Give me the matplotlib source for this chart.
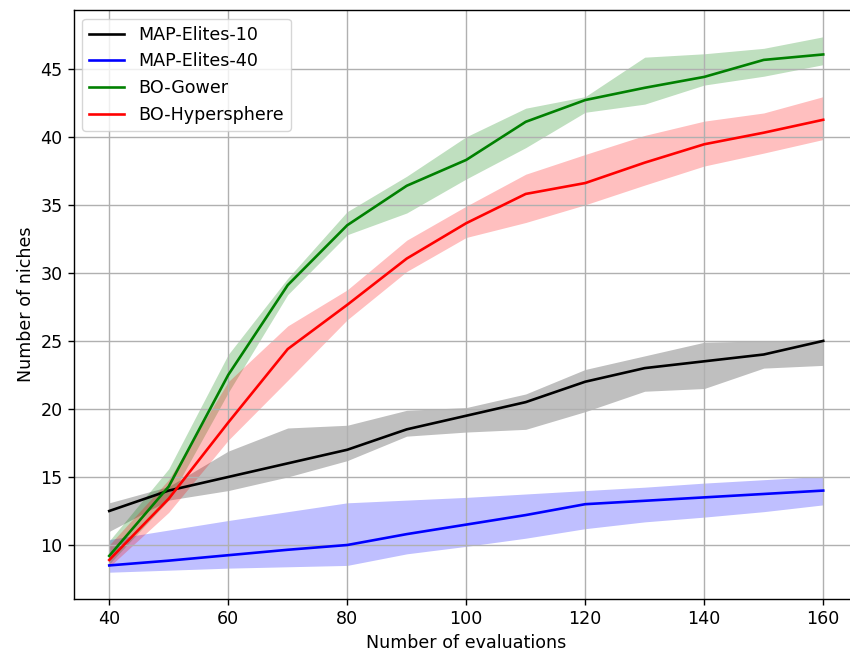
import matplotlib
matplotlib.use("Agg")
import matplotlib.pyplot as plt
import numpy as np

# evaluations
evals = [40, 50, 60, 70, 80, 90, 100, 110, 120, 130, 140, 150, 160]

# MAP-Elites-10
me10_mean = [12.5, 14.0, 15.0, 16.0, 17.0, 18.5, 19.5, 20.5, 22.0, 23.0, 23.5, 24.0, 25.0]
me10_low = [11.0, 13.3, 14.0, 15.0, 16.2, 18.0, 18.3, 18.5, 19.8, 21.3, 21.5, 23.0, 23.2]
me10_high = [13.1, 14.3, 16.9, 18.6, 18.8, 19.9, 20.1, 21.1, 22.9, 23.9, 24.9, 25.0, 25.1]

# MAP-Elites-40
me40_mean = [8.5, 8.85, 9.25, 9.65, 10.0, 10.8, 11.5, 12.2, 13.0, 13.25, 13.5, 13.75, 14.0]
me40_low = [8.0, 8.15, 8.3, 8.4, 8.5, 9.35, 9.9, 10.5, 11.2, 11.7, 12.05, 12.45, 12.95]
me40_high = [10.4, 11.1, 11.8, 12.45, 13.1, 13.3, 13.5, 13.75, 14.0, 14.25, 14.55, 14.8, 15.05]

# BO-Gower
gow_mean = [9.2, 14.3, 22.5, 29.1, 33.5, 36.4, 38.3, 41.1, 42.7, 43.6, 44.4, 45.65, 46.05]
gow_low = [8.6, 13.3, 21.2, 28.4, 32.8, 34.4, 36.9, 39.2, 41.8, 42.4, 43.8, 44.45, 45.3]
gow_high = [10.3, 15.6, 24.0, 29.6, 34.5, 37.1, 40.0, 42.1, 42.95, 45.85, 46.1, 46.5, 47.35]

# BO-Hypersphere
hyp_mean = [8.9, 13.4, 19.0, 24.4, 27.65, 31.05, 33.65, 35.8, 36.6, 38.1, 39.45, 40.3, 41.25]
hyp_low = [8.4, 12.4, 17.7, 22.1, 26.55, 30.1, 32.6, 33.7, 35.0, 36.45, 37.85, 38.8, 39.8]
hyp_high = [10.0, 14.8, 22.0, 26.1, 28.75, 32.4, 34.9, 37.25, 38.7, 40.1, 41.15, 41.75, 42.95]

s = 1.26  # scale from the original dpi
plt.rcParams['font.size'] = 10 * s
plt.rcParams['lines.linewidth'] = 1.5 * s
plt.rcParams['axes.linewidth'] = 0.8 * s
plt.rcParams['grid.linewidth'] = 0.8 * s
plt.rcParams['xtick.major.size'] = 3.5 * s
plt.rcParams['ytick.major.size'] = 3.5 * s
plt.rcParams['xtick.major.width'] = 0.8 * s
plt.rcParams['ytick.major.width'] = 0.8 * s

fig = plt.figure(figsize=(8.5, 6.53), dpi=100)
ax = fig.add_axes([0.0865, 0.0827, 0.924, 0.902])

series = [
    ("MAP-Elites-10", me10_mean, me10_low, me10_high, "k"),
    ("MAP-Elites-40", me40_mean, me40_low, me40_high, "b"),
    ("BO-Gower", gow_mean, gow_low, gow_high, "g"),
    ("BO-Hypersphere", hyp_mean, hyp_low, hyp_high, "r"),
]
for label, mean, low, high, c in series:
    ax.plot(evals, mean, color=c, label=label)
    ax.fill_between(evals, low, high, color=c, alpha=0.25, linewidth=0)

ax.grid(True)
ax.legend(loc="upper left")
ax.set_xlabel("Number of evaluations")
ax.set_ylabel("Number of niches")

fig.savefig("out.png", dpi=100)
